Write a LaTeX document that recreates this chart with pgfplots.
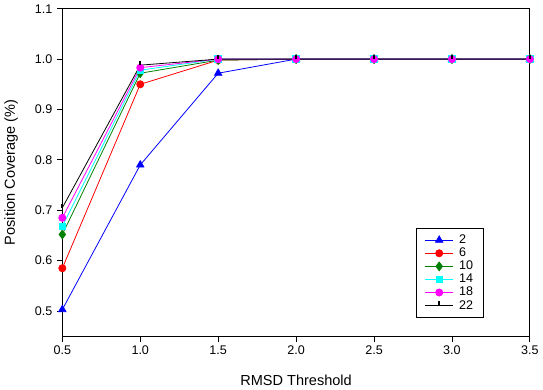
\documentclass[border=0pt]{standalone}
\usepackage{pgfplots}
\pgfplotsset{compat=1.18}
\usepackage{fontspec}
\setmainfont{Liberation Sans}
\definecolor{dgreen}{RGB}{0,128,0}
\definecolor{mcyan}{RGB}{0,255,255}
\definecolor{mmag}{RGB}{255,0,255}
\definecolor{mblue}{RGB}{0,0,255}
\definecolor{mred}{RGB}{255,0,0}
\begin{document}
\begin{tikzpicture}
\begin{axis}[
  scale only axis, width=354pt, height=248pt,
  xmin=0.5, xmax=3.5, ymin=0.45, ymax=1.1,
  xtick={0.5,1.0,...,3.5}, ytick={0.5,0.6,...,1.1},
  xticklabel style={/pgf/number format/.cd,fixed,fixed zerofill,precision=1},
  yticklabel style={/pgf/number format/.cd,fixed,fixed zerofill,precision=1},
  /pgf/number format/assume math mode=true,
  tick align=outside, tick pos=left, major tick length=4pt,
  every tick/.style={black, line width=0.6pt},
  axis line style={line width=0.7pt},
  tick label style={font=\fontsize{9.5}{11}\selectfont},
  label style={font=\fontsize{11}{13}\selectfont},
  xlabel={RMSD Threshold}, ylabel={Position Coverage (\%)},
  xlabel style={yshift=-8pt}, ylabel style={yshift=6pt},
  legend style={at={(0.757,0.331)}, anchor=north west, draw=black, line width=0.5pt,
    font=\fontsize{9.5}{10}\selectfont, row sep=-2.2pt, inner xsep=6pt, inner ysep=3pt,
    /tikz/every odd column/.append style={column sep=2pt}},
  legend cell align=left,
  legend image code/.code={\draw[mark repeat=2,mark phase=2] plot coordinates {(0cm,0cm)(0.38cm,0cm)(0.76cm,0cm)};},
]
\addplot[mblue, line width=0.6pt, mark=triangle*, mark size=3.2pt] coordinates {(0.5,0.503)(1.0,0.790)(1.5,0.972)(2.0,1.0)(2.5,1.0)(3.0,1.0)(3.5,1.0)};
\addlegendentry{2}
\addplot[mred, line width=0.6pt, mark=*, mark size=2.7pt] coordinates {(0.5,0.585)(1.0,0.950)(1.5,0.998)(2.0,1.0)(2.5,1.0)(3.0,1.0)(3.5,1.0)};
\addlegendentry{6}
\addplot[dgreen, line width=0.6pt, mark=diamond*, mark size=3.3pt] coordinates {(0.5,0.652)(1.0,0.972)(1.5,0.998)(2.0,1.0)(2.5,1.0)(3.0,1.0)(3.5,1.0)};
\addlegendentry{10}
\addplot[mcyan, line width=0.6pt, mark=square*, mark size=2.5pt] coordinates {(0.5,0.668)(1.0,0.978)(1.5,1.0)(2.0,1.0)(2.5,1.0)(3.0,1.0)(3.5,1.0)};
\addlegendentry{14}
\addplot[mmag, line width=0.6pt, mark=*, mark size=2.7pt] coordinates {(0.5,0.685)(1.0,0.983)(1.5,1.0)(2.0,1.0)(2.5,1.0)(3.0,1.0)(3.5,1.0)};
\addlegendentry{18}
\addplot[black, line width=0.6pt, mark=|, mark size=1.6pt, mark options={line width=1.5pt, yshift=1.6pt}] coordinates {(0.5,0.705)(1.0,0.988)(1.5,1.0)(2.0,1.0)(2.5,1.0)(3.0,1.0)(3.5,1.0)};
\addlegendentry{22}
\end{axis}
\end{tikzpicture}
\end{document}
